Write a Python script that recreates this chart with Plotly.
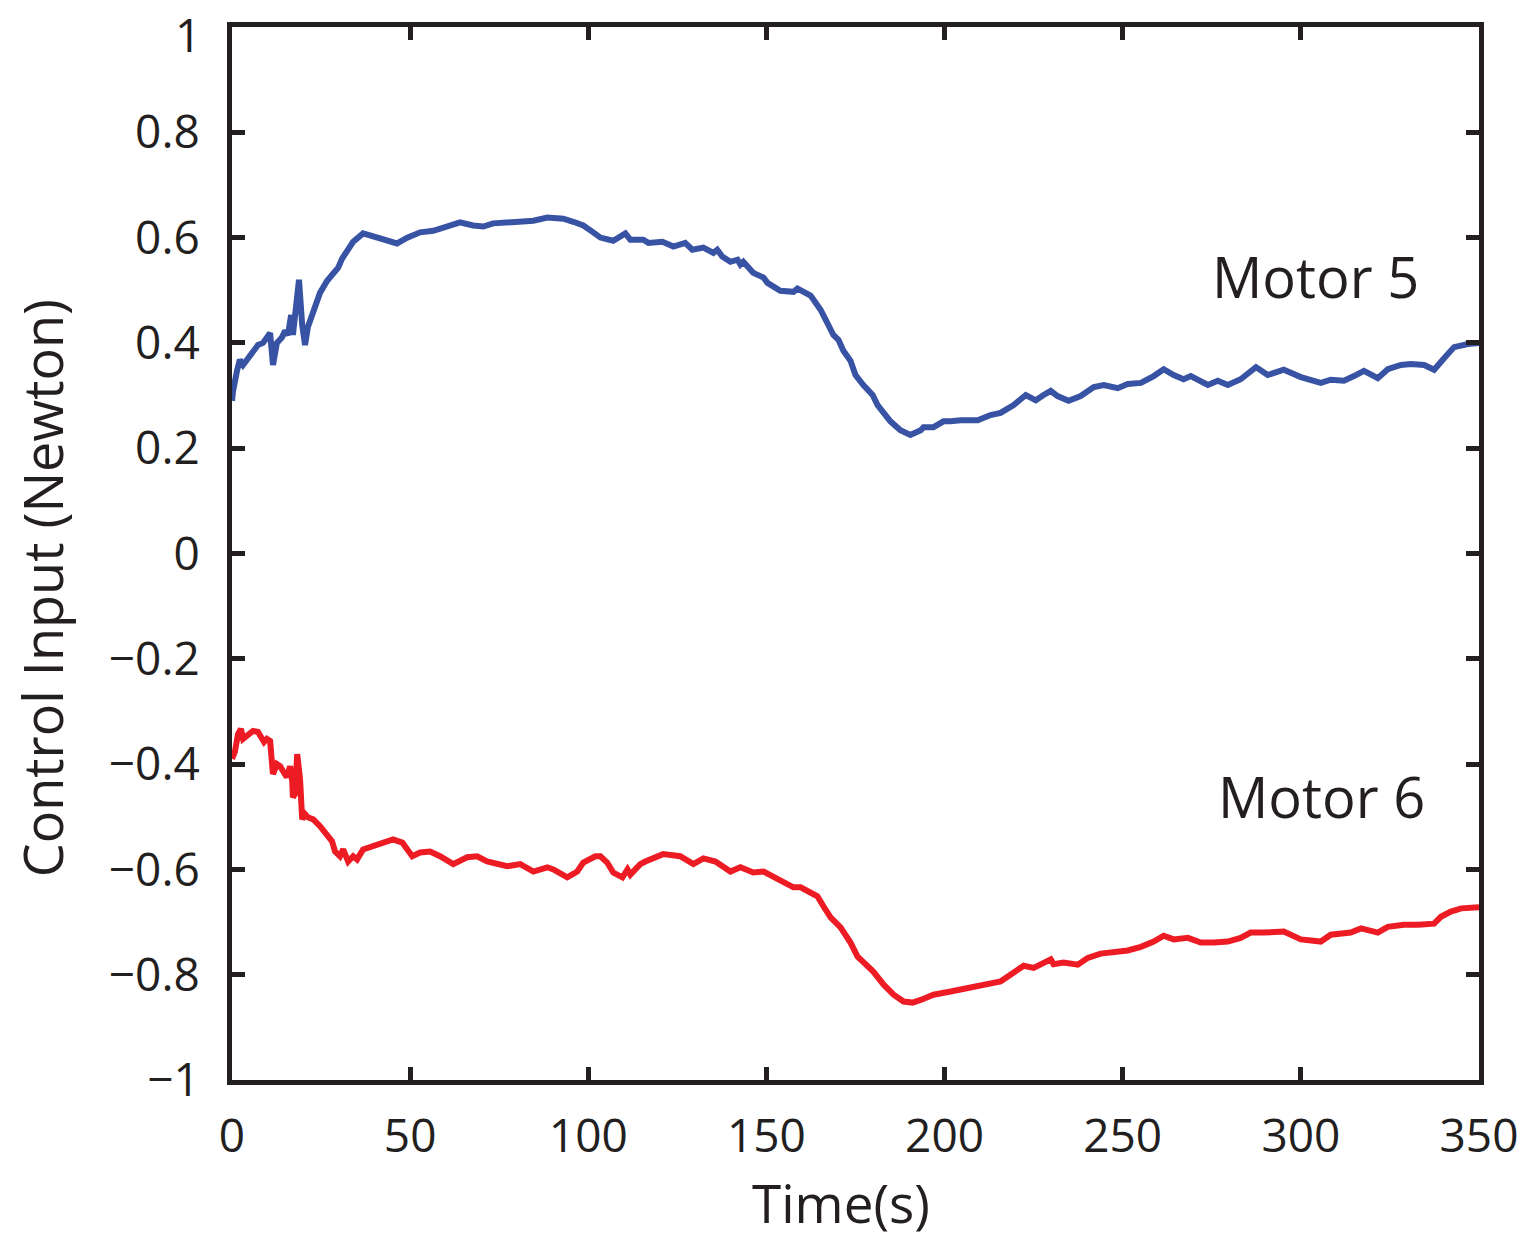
import plotly.graph_objects as go

# Motor 5 (blue)
motor5_t = [0, 0.3, 1.4, 2.2, 3.1, 4.2, 5.6, 7.3, 8.7, 9.8, 10.7, 11.5, 12.6, 14.0, 14.9, 15.7,
            16.6, 17.1, 18.8, 19.7, 20.5, 21.3, 23.3, 24.7, 26.7, 28.4, 29.8, 30.9, 32.6, 34.0,
            36.8, 40.7, 43.5, 46.3, 49.2, 52.8, 56.5, 60.4, 64.0, 67.7, 70.5, 73.3, 77.2, 80.9,
            84.6, 88.5, 93.0, 95.8, 98.6, 101.4,
            103.4, 107.0, 110.4, 111.8, 115.4, 116.9, 120.8, 123.9, 127.2, 129.2, 132.3, 135.1,
            136.2, 137.6, 139.9, 141.9, 142.7, 143.5, 146.3, 149.2, 150.3, 153.9, 157.6, 158.7,
            162.4, 165.2, 167.1, 168.8, 170.2, 171.6, 173.6, 175.0, 177.2, 179.8, 181.2, 182.9,
            184.8, 187.6, 190.4, 193.3, 194.1, 196.9, 199.7, 201.7, 204.5, 209.3, 212.9,
            215.7, 219.4, 222.8, 225.6, 227.8, 229.8, 231.7, 234.8, 238.2, 241.9, 244.7, 248.6,
            251.4, 255.1, 258.7, 261.5, 264.3, 267.1, 269.1, 271.1, 273.9, 276.7, 279.5, 283.1,
            287.4, 290.7, 295.2, 300.0, 305.6, 308.4, 312.1, 314.9, 317.7, 321.6, 324.4, 328.1,
            330.9, 334.6, 337.4, 340.2, 343.0, 346.9, 350.0]
motor5_v = [0.290, 0.309, 0.347, 0.368, 0.358, 0.368, 0.381, 0.396, 0.400, 0.410, 0.419, 0.358,
            0.400, 0.410, 0.423, 0.415, 0.453, 0.415, 0.520, 0.434, 0.396, 0.430, 0.469, 0.495,
            0.518, 0.533, 0.543, 0.560, 0.579, 0.592, 0.608, 0.600, 0.596, 0.589, 0.600, 0.610,
            0.613, 0.621, 0.629, 0.623, 0.621, 0.627, 0.629, 0.629, 0.632, 0.638, 0.636, 0.630,
            0.623, 0.610,
            0.600, 0.594, 0.608, 0.596, 0.596, 0.590, 0.592, 0.583, 0.590, 0.577, 0.581, 0.571,
            0.577, 0.564, 0.554, 0.558, 0.549, 0.554, 0.533, 0.524, 0.514, 0.499, 0.497, 0.503,
            0.490, 0.463, 0.434, 0.415, 0.406, 0.385, 0.366, 0.339, 0.320, 0.301, 0.282, 0.265,
            0.251, 0.234, 0.225, 0.234, 0.240, 0.240, 0.251, 0.251, 0.253, 0.253, 0.263,
            0.267, 0.282, 0.301, 0.291, 0.301, 0.309, 0.299, 0.290, 0.299, 0.316, 0.320, 0.314,
            0.322, 0.324, 0.337, 0.350, 0.339, 0.331, 0.337, 0.331, 0.320, 0.328, 0.320, 0.331,
            0.354, 0.339, 0.349, 0.335, 0.324, 0.330, 0.328, 0.337, 0.347, 0.333, 0.350, 0.358,
            0.360, 0.358, 0.349, 0.371, 0.392, 0.398, 0.400]

# Motor 6 (red)
motor6_t = [0, 0.8, 1.7, 2.5, 3.1, 4.2, 5.9, 7.3, 8.4, 9.0, 9.8, 10.7, 11.2, 11.5, 12.6, 13.5,
            14.3, 15.4, 16.3, 16.9, 17.1, 17.7, 18.3, 19.1, 19.7, 20.5, 21.3, 22.8, 24.7, 26.7,
            28.1, 28.9, 30.3, 31.2, 32.6, 34.0, 35.1, 36.8, 39.6, 42.4, 45.2, 47.8, 50.6, 52.8,
            55.6, 58.4, 62.1, 66.0, 68.8, 71.6, 74.4, 77.2, 80.9, 84.6, 88.5, 90.2, 94.1, 96.9,
            98.6, 102.0,
            103.4, 105.3, 107.0, 109.6, 111.0, 111.8, 114.6, 116.0, 121.0, 125.8, 129.5, 132.3,
            135.7, 139.9, 142.7, 146.3, 149.2, 152.0, 154.8, 157.6, 159.6, 162.4, 164.3, 166.0,
            168.0, 170.8, 173.6, 175.6, 178.4, 180.0, 182.9, 185.7, 188.5, 191.0, 193.3, 196.9,
            201.7, 206.5, 211.0,
            215.7, 218.5, 222.2, 225.0, 227.8, 229.8, 230.6, 233.4, 237.4, 240.2, 243.8, 247.5,
            251.4, 255.1, 258.7, 261.5, 264.3, 268.3, 271.9, 275.6, 279.5, 283.1, 285.9, 289.6,
            295.2, 300.0, 305.6, 308.4, 314.0, 316.9, 321.6, 324.4, 328.9, 332.9, 337.4, 339.3,
            342.1, 345.0, 350.0]
motor6_v = [-0.390, -0.377, -0.343, -0.333, -0.352, -0.347, -0.337, -0.339, -0.349, -0.358,
            -0.352, -0.356, -0.396, -0.419, -0.400, -0.404, -0.413, -0.425, -0.404, -0.432,
            -0.463, -0.457, -0.381, -0.429, -0.505, -0.495, -0.501, -0.505, -0.518, -0.533,
            -0.547, -0.566, -0.575, -0.562, -0.585, -0.575, -0.581, -0.562, -0.556, -0.547,
            -0.543, -0.549, -0.575, -0.568, -0.566, -0.575, -0.590, -0.577, -0.575, -0.585,
            -0.590, -0.594, -0.590, -0.604, -0.596, -0.600, -0.615, -0.604, -0.587, -0.575,
            -0.575, -0.587, -0.606, -0.615, -0.600, -0.610, -0.590, -0.585, -0.571, -0.575,
            -0.590, -0.579, -0.585, -0.604, -0.596, -0.606, -0.604, -0.613, -0.623, -0.634,
            -0.634, -0.644, -0.651, -0.670, -0.691, -0.710, -0.739, -0.766, -0.785, -0.794,
            -0.819, -0.838, -0.851, -0.853, -0.848, -0.838, -0.832, -0.825, -0.819,
            -0.813, -0.800, -0.783, -0.787, -0.777, -0.771, -0.780, -0.777, -0.781, -0.768,
            -0.760, -0.758, -0.754, -0.747, -0.737, -0.726, -0.733, -0.730, -0.739, -0.739,
            -0.737, -0.730, -0.720, -0.720, -0.718, -0.733, -0.737, -0.724, -0.720, -0.712,
            -0.720, -0.709, -0.705, -0.705, -0.703, -0.690, -0.680, -0.674, -0.672]

x_ticks = [0, 50, 100, 150, 200, 250, 300, 350]
y_ticks = [-1, -0.8, -0.6, -0.4, -0.2, 0, 0.2, 0.4, 0.6, 0.8, 1]
y_tick_labels = [("\u2212" if v < 0 else "") + ("%g" % abs(v)) for v in y_ticks]

FONT = "Open Sans"
INK = "#231f20"

fig = go.Figure()
fig.add_trace(go.Scatter(x=motor5_t, y=motor5_v, mode="lines", name="Motor 5",
                         line=dict(color="#3953a4", width=6)))
fig.add_trace(go.Scatter(x=motor6_t, y=motor6_v, mode="lines", name="Motor 6",
                         line=dict(color="#ed1c24", width=6)))

axis_common = dict(showline=True, linewidth=5, linecolor=INK, mirror="ticks",
                   ticks="inside", ticklen=13, tickwidth=4.5, tickcolor=INK,
                   showgrid=False, zeroline=False, ticklabeloverflow="allow",
                   automargin=False,
                   tickfont=dict(family=FONT, size=46, color=INK))

fig.update_xaxes(range=[0, 350], tickvals=x_ticks, ticktext=[str(v) for v in x_ticks],
                 ticklabelstandoff=12, **axis_common)
# the topmost label ("1") sits at the very top edge, so it is drawn as a
# separate text anchored inside the page instead of as an axis label
fig.update_yaxes(range=[-1, 1], tickvals=y_ticks,
                 ticktext=y_tick_labels[:-1] + [""],
                 ticklabelstandoff=18, **axis_common)
fig.add_annotation(text=y_tick_labels[-1], x=0, y=1, xref="paper", yref="paper",
                   xanchor="right", yanchor="top", xshift=-29, yshift=26,
                   showarrow=False, font=dict(family=FONT, size=46, color=INK))

fig.add_annotation(text="Motor 5", x=304.2, y=0.528, xref="x", yref="y", showarrow=False,
                   font=dict(family=FONT, size=56, color=INK))
fig.add_annotation(text="Motor 6", x=305.9, y=-0.461, xref="x", yref="y", showarrow=False,
                   font=dict(family=FONT, size=56, color=INK))
fig.add_annotation(text="Time(s)", x=0.488, y=0, xref="paper", yref="paper", yshift=-122,
                   xanchor="center", yanchor="middle", showarrow=False,
                   font=dict(family=FONT, size=53, color=INK))
fig.add_annotation(text="Control Input (Newton)", x=0, y=0.467, xref="paper", yref="paper",
                   xshift=-190, textangle=-90, xanchor="center", yanchor="middle",
                   showarrow=False, font=dict(family=FONT, size=54, color=INK))

fig.update_layout(width=1524, height=1240, showlegend=False,
                  paper_bgcolor="white", plot_bgcolor="white",
                  margin=dict(l=232, r=45, t=27, b=160, autoexpand=False))

fig.write_html("out.html")
